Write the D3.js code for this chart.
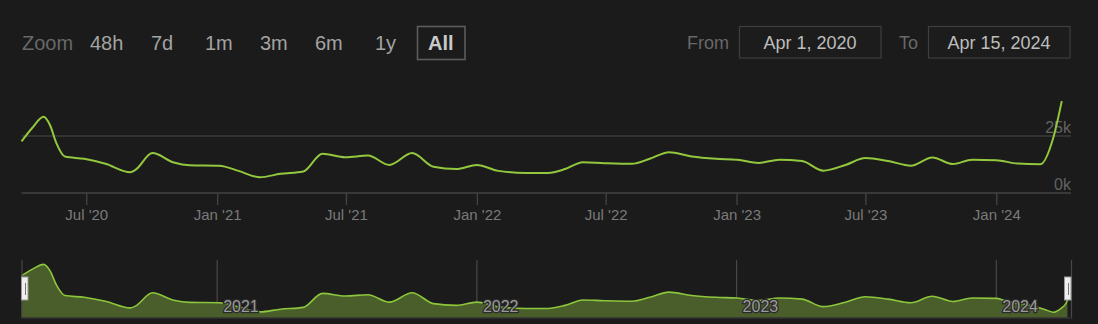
<!DOCTYPE html>
<html><head><meta charset="utf-8">
<script src="https://cdn.jsdelivr.net/npm/d3@7"></script>
<style>
html,body{margin:0;padding:0;background:#1b1b1b;overflow:hidden;}
svg{display:block;font-family:"Liberation Sans",Arial,sans-serif;}
</style></head>
<body>
<svg id="chart" width="1098" height="324"></svg>
<script>
// ---- data ----
const mainDates = ["2020-04-01","2020-04-16","2020-05-02","2020-05-11","2020-05-20","2020-06-01","2020-06-28","2020-07-28","2020-09-01","2020-09-08","2020-10-02","2020-11-01","2020-11-23","2021-01-04","2021-01-31","2021-03-02","2021-03-31","2021-05-02","2021-05-29","2021-06-30","2021-08-01","2021-08-31","2021-10-02","2021-11-01","2021-12-03","2022-01-01","2022-01-31","2022-03-11","2022-04-11","2022-05-05","2022-05-30","2022-06-29","2022-08-07","2022-09-01","2022-09-28","2022-10-30","2022-12-03","2023-01-02","2023-02-01","2023-03-02","2023-04-03","2023-05-03","2023-06-03","2023-07-01","2023-08-02","2023-09-03","2023-10-03","2023-11-01","2023-11-28","2024-01-01","2024-01-31","2024-03-03","2024-03-21","2024-04-02"];
const mainValues = [22600,28500,33400,29800,21900,16000,15000,12800,9100,10100,17500,13400,12200,12000,9700,6900,8400,9400,17200,15700,16400,12300,17500,11500,10500,12300,9700,8800,8800,10500,13500,13100,12800,15000,17900,16000,15000,14600,13200,14600,14000,9800,12300,15300,14000,12000,15600,12700,14600,14400,12900,12600,24100,40300];

const navDates = ["2020-04-01","2020-04-16","2020-05-02","2020-05-11","2020-05-20","2020-06-01","2020-06-28","2020-07-28","2020-09-01","2020-09-08","2020-10-02","2020-11-01","2020-11-23","2021-01-04","2021-01-31","2021-03-02","2021-03-31","2021-05-02","2021-05-29","2021-06-30","2021-08-01","2021-08-31","2021-10-02","2021-11-01","2021-12-03","2022-01-01","2022-01-31","2022-03-11","2022-04-11","2022-05-05","2022-05-30","2022-06-29","2022-08-07","2022-09-01","2022-09-28","2022-10-30","2022-12-03","2023-01-02","2023-02-01","2023-03-02","2023-04-03","2023-05-03","2023-06-03","2023-07-01","2023-08-02","2023-09-03","2023-10-03","2023-11-01","2023-11-28","2024-01-01","2024-01-12","2024-02-25","2024-03-11","2024-03-21","2024-04-01","2024-04-08","2024-04-10"];
const navValues = [27000,30500,33300,29800,21900,16000,15000,12800,9100,10100,17500,13400,12200,12000,9700,6900,8400,9400,17200,15700,16400,12300,17500,11500,10500,12300,9700,8800,8800,10500,13500,13100,12800,15000,17900,16000,15000,14600,13200,14600,14000,9800,12300,15300,14000,12000,15600,12700,14600,14400,13300,9800,8000,6700,8900,11700,13500];

const xTickDates = ["2020-07-01","2021-01-01","2021-07-01","2022-01-01","2022-07-01","2023-01-01","2023-07-01","2024-01-01"];
const yTickValues = [0, 25000];
const yTickLabels = ["0k", "25k"];
const navYearDates = ["2021-01-01","2022-01-01","2023-01-01","2024-01-01"];
const zoomButtons = ["48h","7d","1m","3m","6m","1y","All"];
const rangeFrom = "Apr 1, 2020";
const rangeTo = "Apr 15, 2024";
const domainStart = "2020-04-01", domainEnd = "2024-04-15";

// ---- drawing ----
const parse = d3.utcParse("%Y-%m-%d");
const svg = d3.select("#chart");
svg.append("rect").attr("width",1098).attr("height",324).attr("fill","#1b1b1b");

const x = d3.scaleUtc().domain([parse(domainStart), parse(domainEnd)]).range([21.5, 1071]);
const y = d3.scaleLinear().domain([0, 25000]).range([193, 136]);
const yNav = d3.scaleLinear().domain([3500, 33000]).range([318, 264.9]);

const main = mainDates.map((d,i)=>({date:parse(d), v:mainValues[i]}));
const nav = navDates.map((d,i)=>({date:parse(d), v:navValues[i]}));

// range selector
const zoomX = [90, 151, 205, 260, 315, 375, 428];
svg.append("text").attr("x",22).attr("y",49.5).attr("fill","#686868")
  .attr("font-size",20).text("Zoom");
svg.append("rect").attr("x",417.5).attr("y",26.5).attr("width",47.5).attr("height",33)
  .attr("fill","none").attr("stroke","#5c5c5c").attr("stroke-width",1.6);
svg.selectAll("text.zb").data(zoomButtons).join("text").attr("class","zb")
  .attr("x",(d,i)=>zoomX[i]).attr("y",49.5).attr("font-size",20)
  .attr("font-weight",d=>d==="All"?"bold":"normal")
  .attr("fill",d=>d==="All"?"#c9c9c9":"#a3a3a3").text(d=>d);

svg.append("text").attr("x",687).attr("y",49).attr("fill","#686868").attr("font-size",18).text("From");
svg.append("text").attr("x",899).attr("y",49).attr("fill","#686868").attr("font-size",18).text("To");
[[739.5,rangeFrom],[928.5,rangeTo]].forEach(([bx,t])=>{
  svg.append("rect").attr("x",bx).attr("y",26.5).attr("width",141.5).attr("height",31.5)
    .attr("fill","#1c1c1c").attr("stroke","#3e3e3e").attr("stroke-width",1.2);
  svg.append("text").attr("x",bx+70.5).attr("y",49).attr("text-anchor","middle")
    .attr("fill","#bdbdbd").attr("font-size",18).text(t);
});

// main grid
svg.selectAll("line.grid").data(yTickValues).join("line").attr("class","grid")
  .attr("x1",21.5).attr("x2",1071).attr("y1",d=>y(d)).attr("y2",d=>y(d))
  .attr("stroke",d=>d===0?"#444":"#3b3b3b").attr("stroke-width",1.5);
svg.selectAll("text.ylab").data(yTickValues).join("text").attr("class","ylab")
  .attr("x",1071).attr("y",d=>y(d)-3).attr("text-anchor","end")
  .attr("fill","#626262").attr("font-size",16).text((d,i)=>yTickLabels[i]);

// x axis
const xAxis = d3.axisBottom(x).tickValues(xTickDates.map(parse))
  .tickFormat(d3.utcFormat("%b '%y")).tickSize(12).tickPadding(4);
const gx = svg.append("g").attr("transform","translate(0,193)").call(xAxis);
gx.select(".domain").remove();
gx.selectAll(".tick line").attr("stroke","#444").attr("stroke-width",1.3);
gx.selectAll(".tick text").attr("fill","#7a7a7a").attr("font-size",15)
  .attr("font-family","Liberation Sans, Arial, sans-serif");

// main line
svg.append("path").datum(main)
  .attr("d", d3.line().x(d=>x(d.date)).y(d=>y(d.v)).curve(d3.curveMonotoneX))
  .attr("fill","none").attr("stroke","#93c83e").attr("stroke-width",2);

// navigator
svg.selectAll("line.navyear").data(navYearDates).join("line").attr("class","navyear")
  .attr("x1",d=>x(parse(d))).attr("x2",d=>x(parse(d))).attr("y1",260).attr("y2",318)
  .attr("stroke","#484848").attr("stroke-width",1.2);
svg.append("path").datum(nav)
  .attr("d", d3.area().x(d=>x(d.date)).y0(318).y1(d=>yNav(d.v)).curve(d3.curveMonotoneX))
  .attr("fill","#4a5e2b");
svg.append("path").datum(nav)
  .attr("d", d3.line().x(d=>x(d.date)).y(d=>yNav(d.v)).curve(d3.curveMonotoneX))
  .attr("fill","none").attr("stroke","#8cc63c").attr("stroke-width",1.6);
svg.selectAll("text.navlab").data(navYearDates).join("text").attr("class","navlab")
  .attr("x",d=>x(parse(d))+6).attr("y",312).attr("font-size",16)
  .attr("fill","#9a9a9a").attr("stroke","#2a2a2a").attr("stroke-width",2.5)
  .attr("paint-order","stroke").text(d=>d.slice(0,4));
// navigator frame
svg.append("line").attr("x1",22).attr("x2",22).attr("y1",260).attr("y2",318).attr("stroke","#484848").attr("stroke-width",1.2);
svg.append("line").attr("x1",1071.5).attr("x2",1071.5).attr("y1",260).attr("y2",318).attr("stroke","#484848").attr("stroke-width",1.2);
svg.append("line").attr("x1",21.5).attr("x2",1072).attr("y1",318).attr("y2",318).attr("stroke","#333").attr("stroke-width",1.5);
// handles
[[21.5],[1064.5]].forEach(([hx])=>{
  svg.append("rect").attr("x",hx).attr("y",277).attr("width",6.5).attr("height",23)
    .attr("fill","#efefef").attr("stroke","#999").attr("stroke-width",1);
  svg.append("line").attr("x1",hx+4).attr("x2",hx+4).attr("y1",283).attr("y2",295)
    .attr("stroke","#777").attr("stroke-width",1);
});
</script>
</body></html>
